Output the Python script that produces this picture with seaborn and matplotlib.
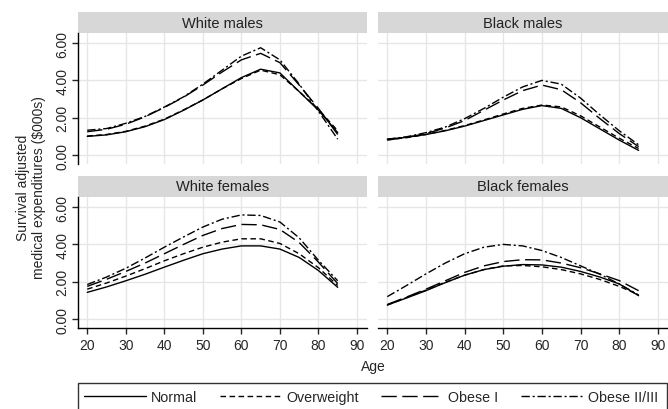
import numpy as np
import pandas as pd
import matplotlib
matplotlib.use("Agg")
import matplotlib.pyplot as plt
from matplotlib.patches import Rectangle
import seaborn as sns

# Edades (cada 5 años)
edades = [20, 25, 30, 35, 40, 45, 50, 55, 60, 65, 70, 75, 80, 85]
grupos = ["White males", "Black males", "White females", "Black females"]
categorias = ["Normal", "Overweight", "Obese I", "Obese II/III"]

# Gasto ajustado por supervivencia ($000s)
white_males = {
    "Normal":       [1.00, 1.08, 1.25, 1.52, 1.90, 2.40, 2.95, 3.55, 4.15, 4.60, 4.40, 3.40, 2.40, 1.20],
    "Overweight":   [1.02, 1.10, 1.27, 1.55, 1.92, 2.42, 2.95, 3.55, 4.10, 4.55, 4.30, 3.40, 2.45, 1.30],
    "Obese I":      [1.25, 1.38, 1.65, 2.05, 2.55, 3.10, 3.75, 4.45, 5.10, 5.45, 4.95, 3.75, 2.50, 1.10],
    "Obese II/III": [1.33, 1.42, 1.70, 2.07, 2.57, 3.12, 3.80, 4.55, 5.30, 5.75, 5.10, 3.80, 2.35, 0.85],
}
black_males = {
    "Normal":       [0.85, 0.95, 1.10, 1.30, 1.55, 1.85, 2.15, 2.45, 2.65, 2.50, 2.00, 1.40, 0.80, 0.25],
    "Overweight":   [0.82, 0.93, 1.10, 1.32, 1.58, 1.88, 2.20, 2.50, 2.68, 2.58, 2.10, 1.50, 0.90, 0.35],
    "Obese I":      [0.80, 0.95, 1.15, 1.45, 1.85, 2.40, 2.95, 3.45, 3.75, 3.50, 2.80, 1.95, 1.15, 0.45],
    "Obese II/III": [0.85, 0.98, 1.20, 1.50, 1.95, 2.50, 3.10, 3.65, 4.00, 3.80, 3.05, 2.15, 1.30, 0.55],
}
white_females = {
    "Normal":       [1.43, 1.72, 2.05, 2.40, 2.78, 3.15, 3.50, 3.75, 3.92, 3.92, 3.75, 3.30, 2.60, 1.70],
    "Overweight":   [1.60, 1.93, 2.30, 2.70, 3.12, 3.50, 3.85, 4.12, 4.30, 4.30, 4.05, 3.50, 2.75, 1.80],
    "Obese I":      [1.75, 2.13, 2.55, 3.00, 3.50, 4.00, 4.48, 4.85, 5.07, 5.05, 4.80, 4.10, 3.05, 1.90],
    "Obese II/III": [1.85, 2.25, 2.72, 3.27, 3.85, 4.40, 4.93, 5.35, 5.58, 5.55, 5.20, 4.35, 3.15, 2.05],
}
black_females = {
    "Normal":       [0.75, 1.13, 1.52, 1.95, 2.35, 2.65, 2.83, 2.92, 2.90, 2.78, 2.55, 2.25, 1.88, 1.25],
    "Overweight":   [0.75, 1.15, 1.55, 1.97, 2.35, 2.65, 2.85, 2.87, 2.80, 2.65, 2.42, 2.12, 1.75, 1.30],
    "Obese I":      [0.78, 1.18, 1.60, 2.05, 2.50, 2.85, 3.08, 3.18, 3.17, 3.00, 2.75, 2.42, 2.06, 1.52],
    "Obese II/III": [1.20, 1.80, 2.42, 3.00, 3.50, 3.85, 4.00, 3.92, 3.67, 3.30, 2.85, 2.40, 1.88, 1.29],
}
datos_grupo = [white_males, black_males, white_females, black_females]

filas = []
for g, d in zip(grupos, datos_grupo):
    for c in categorias:
        for a, v in zip(edades, d[c]):
            filas.append({"group": g, "bmi": c, "age": a, "exp": v})
df = pd.DataFrame(filas)

sns.set_style("white")
plt.rcParams["font.family"] = ["Liberation Sans", "DejaVu Sans"]

dashes = {"Normal": "", "Overweight": (4, 2.5), "Obese I": (11, 4), "Obese II/III": (6, 2, 1.5, 2)}

fig = plt.figure(figsize=(6.68, 4.10), dpi=100)
W, H = 668, 410
posiciones = [(78, 34, 367, 165), (378, 34, 668, 165), (78, 198, 367, 329), (378, 198, 668, 329)]

handles = labels = None
for i, (g, (x0, y0, x1, y1)) in enumerate(zip(grupos, posiciones)):
    ax = fig.add_axes([x0 / W, 1 - y1 / H, (x1 - x0) / W, (y1 - y0) / H])
    sub = df[df["group"] == g]
    sns.lineplot(data=sub, x="age", y="exp", style="bmi", style_order=categorias,
                 dashes=dashes, color="black", linewidth=1.0, ax=ax, legend=(i == 0))
    if i == 0:
        handles, labels = ax.get_legend_handles_labels()
        ax.get_legend().remove()
    ax.set_xlim(17.6, 92.6)
    ax.set_ylim(-0.48, 6.54)
    ax.set_xticks(range(20, 91, 10))
    ax.set_yticks([0, 2, 4, 6])
    ax.grid(True, color="#e6e6e6", linewidth=1.0)
    ax.set_axisbelow(True)
    ax.set_xlabel("")
    ax.set_ylabel("")
    for s in ["top", "right", "left", "bottom"]:
        ax.spines[s].set_visible(False)
    col = i % 2
    fila = i // 2
    if col == 0:
        ax.spines["left"].set_visible(True)
        ax.spines["left"].set_color("black")
        ax.spines["left"].set_linewidth(1.0)
        ax.set_yticklabels(["0.00", "2.00", "4.00", "6.00"], rotation=90, va="center")
        ax.tick_params(axis="y", left=True, length=4, width=1.0, labelsize=10, pad=2)
    else:
        ax.tick_params(axis="y", left=False, labelleft=False)
    if fila == 1:
        ax.spines["bottom"].set_visible(True)
        ax.spines["bottom"].set_color("black")
        ax.spines["bottom"].set_linewidth(1.0)
        ax.tick_params(axis="x", bottom=True, length=4, width=1.0, labelsize=10, pad=3)
    else:
        ax.tick_params(axis="x", bottom=False, labelbottom=False)
    # franja del título del panel
    alto = 21 / (y1 - y0)
    ax.add_patch(Rectangle((0, 1), 1, alto, transform=ax.transAxes, facecolor="#d7d7d7",
                           edgecolor="none", clip_on=False))
    ax.text(0.5, 1 + alto / 2, g, transform=ax.transAxes, ha="center", va="center",
            fontsize=10.5, color="#222222")

fig.text(373 / W, 1 - 367 / H, "Age", ha="center", va="center", fontsize=10)
fig.text(31 / W, 1 - 188 / H, "Survival adjusted\nmedical expenditures ($000s)",
         rotation=90, ha="center", va="center", fontsize=10, multialignment="center")

# marco de la leyenda (llega hasta el borde inferior)
fig.patches.append(Rectangle((78 / W, 1 - 412 / H), 588.5 / W, 28 / H, transform=fig.transFigure,
                             facecolor="white", edgecolor="#333333", linewidth=1.0))
leg = fig.legend(handles, labels, ncol=4, mode="expand", loc="center left",
                 bbox_to_anchor=(84 / W, 1 - 398 / H, 574 / W, 0), frameon=False,
                 fontsize=10.3, handlelength=4.3, handletextpad=0.4,
                 borderaxespad=0, borderpad=0, columnspacing=1.0)

fig.savefig("out.png", dpi=100)
